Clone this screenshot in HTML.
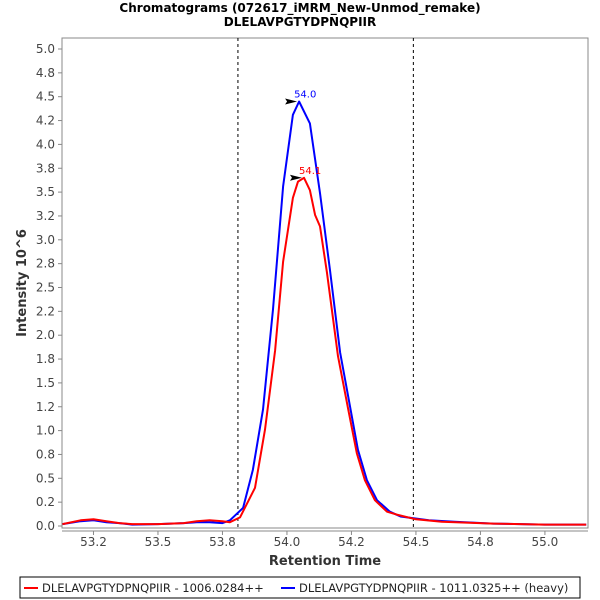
<!DOCTYPE html>
<html><head><meta charset="utf-8"><style>
body{margin:0;background:#fff;}
svg{display:block;font-family:"DejaVu Sans","Liberation Sans",sans-serif;}
</style></head><body>
<svg id="chart" width="600" height="600" viewBox="0 0 600 600">
<rect width="600" height="600" fill="#fff"/>
<text x="300" y="12" text-anchor="middle" font-size="12" font-weight="bold">Chromatograms (072617_iMRM_New-Unmod_remake)</text>
<text x="300" y="26" text-anchor="middle" font-size="12" font-weight="bold">DLELAVPGTYDPNQPIIR</text>
<text transform="translate(26,283) rotate(-90)" text-anchor="middle" font-size="13" font-weight="bold" fill="#333">Intensity 10^6</text>
<text x="325" y="565" text-anchor="middle" font-size="13" font-weight="bold" fill="#333">Retention Time</text>
<rect x="62" y="38" width="526" height="490" fill="#fff" stroke="#888"/>
<g id="axes"></g>
<g id="series"></g>
<g>
<rect x="20" y="577" width="560" height="21" fill="#fff" stroke="#000"/>
<line x1="24" y1="588" x2="38" y2="588" stroke="red" stroke-width="2"/>
<text x="42" y="592" font-size="11.5" fill="#222">DLELAVPGTYDPNQPIIR - 1006.0284++</text>
<line x1="281" y1="588" x2="295" y2="588" stroke="blue" stroke-width="2"/>
<text x="299" y="592" font-size="11.5" fill="#222">DLELAVPGTYDPNQPIIR - 1011.0325++ (heavy)</text>
</g>
</svg>
<script>
const yTicks=[0,0.25,0.5,0.75,1,1.25,1.5,1.75,2,2.25,2.5,2.75,3,3.25,3.5,3.75,4,4.25,4.5,4.75,5];
const yTickLabels=["0.0","0.2","0.5","0.8","1.0","1.2","1.5","1.8","2.0","2.2","2.5","2.8","3.0","3.2","3.5","3.8","4.0","4.2","4.5","4.8","5.0"];
const xTicks=[53.25,53.5,53.75,54,54.25,54.5,54.75,55];
const xTickLabels=["53.2","53.5","53.8","54.0","54.2","54.5","54.8","55.0"];
const dashedTimes=[53.81,54.49];
const blueTimes=[53.13,53.2,53.25,53.3,53.35,53.4,53.5,53.6,53.65,53.7,53.75,53.779,53.83,53.868,53.907,53.946,53.985,54.023,54.047,54.089,54.128,54.167,54.206,54.244,54.275,54.31,54.349,54.399,54.44,54.55,54.65,54.8,55.0,55.16];
const blueValues=[0.02,0.05,0.06,0.04,0.03,0.015,0.02,0.03,0.04,0.04,0.03,0.06,0.19,0.59,1.22,2.27,3.56,4.31,4.45,4.22,3.49,2.68,1.82,1.26,0.8,0.48,0.27,0.15,0.1,0.06,0.045,0.025,0.015,0.015];
const redTimes=[53.13,53.2,53.25,53.3,53.35,53.4,53.5,53.6,53.65,53.7,53.75,53.779,53.818,53.876,53.915,53.954,53.985,54.023,54.043,54.066,54.089,54.109,54.128,54.155,54.198,54.237,54.271,54.302,54.341,54.388,54.426,54.5,54.6,54.8,55.0,55.16];
const redValues=[0.02,0.06,0.07,0.05,0.03,0.02,0.02,0.03,0.05,0.06,0.05,0.04,0.09,0.4,1.01,1.84,2.77,3.44,3.61,3.65,3.52,3.26,3.14,2.66,1.78,1.23,0.76,0.48,0.27,0.15,0.12,0.07,0.045,0.025,0.015,0.015];
const peakLabels=[{t:54.047,v:4.45,label:"54.0",color:"blue"},{t:54.066,v:3.65,label:"54.1",color:"red"}];

const X0=53.128,X1=55.167,PX0=62,PX1=588,PY0=526,PYS=95.4;
function xs(t){return PX0+(t-X0)/(X1-X0)*(PX1-PX0);}
function ys(v){return PY0-v*PYS;}
const NS="http://www.w3.org/2000/svg";
const axes=document.getElementById('axes'),series=document.getElementById('series');
function mk(tag,attrs,parent){const e=document.createElementNS(NS,tag);for(const k in attrs)e.setAttribute(k,attrs[k]);parent.appendChild(e);return e;}

yTicks.forEach((v,i)=>{
  const l=mk('line',{x1:58,x2:62,y1:ys(v),y2:ys(v),stroke:'#888'},axes);
  
  
  const t=mk('text',{x:55,y:ys(v)+4,'text-anchor':'end','font-size':'12',fill:'#444'},axes);
  t.textContent=yTickLabels[i];
  
  
});
const xl=mk('line',{x1:62,x2:588,y1:531,y2:531,stroke:'#888'},axes);


xTicks.forEach((v,i)=>{
  const l=mk('line',{x1:xs(v),x2:xs(v),y1:531,y2:535,stroke:'#888'},axes);
  
  
  const t=mk('text',{x:xs(v),y:546,'text-anchor':'middle','font-size':'12',fill:'#444'},axes);
  t.textContent=xTickLabels[i];
  
  
});
dashedTimes.forEach(t=>{
  const l=mk('line',{x1:xs(t),x2:xs(t),y1:38,y2:528,stroke:'#000','stroke-dasharray':'3,3'},series);
  
  
});
function path(times,vals,color,name){
  const d=times.map((t,i)=>(i?'L':'M')+xs(t).toFixed(1)+','+ys(vals[i]).toFixed(1)).join('');
  const p=mk('path',{d:d,fill:'none',stroke:color,'stroke-width':2,'stroke-linejoin':'round'},series);
  
  
}
path(blueTimes,blueValues,'blue','series-heavy');
path(redTimes,redValues,'red','series-light');
peakLabels.forEach(p=>{
  const x=xs(p.t),y=ys(p.v);
  const a=mk('polygon',{points:`${x-2},${y} ${x-14},${y-3} ${x-12},${y} ${x-14},${y+3}`,fill:'#000'},series);
  
  
  const t=mk('text',{x:x-5,y:y-4,'font-size':'10',fill:p.color},series);
  t.textContent=p.label;
  
  
});
</script>
</body></html>
